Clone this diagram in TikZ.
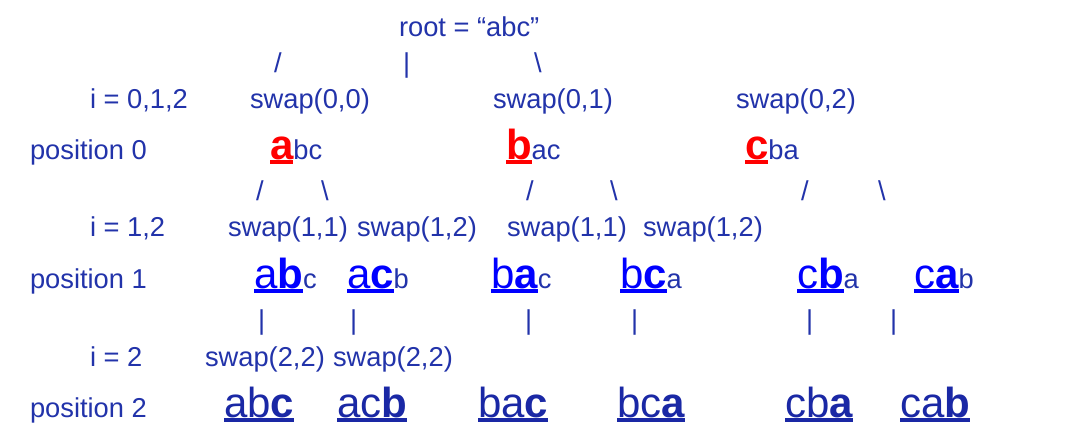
\documentclass[tikz,border=0pt]{standalone}
\usepackage{fontspec}
\setmainfont{Liberation Sans}
\definecolor{tblue}{RGB}{34,51,170}
\definecolor{pblue}{RGB}{0,0,255}
\definecolor{dblue}{RGB}{26,40,165}
\newsavebox\ulsave
\newcommand\ulx[1]{\sbox\ulsave{#1}\rlap{\rule[-5pt]{\wd\ulsave}{3.6pt}}\usebox\ulsave}
\newcommand\bigf{\fontsize{42}{46}\selectfont}
\newcommand\smf{\fontsize{27.3}{30}\selectfont}
\newcommand\pzero[2]{{\color{red}\ulx{\bigf\bfseries #1}}#2}
\newcommand\pone[3]{{\color{pblue}\ulx{\bigf #1\textbf{#2}}}#3}
\newcommand\ptwo[2]{{\color{dblue}\ulx{\bigf #1\textbf{#2}}}}
\begin{document}
\begin{tikzpicture}[x=1pt,y=-1pt,
  txt/.style={anchor=base west, inner sep=0pt, outer sep=0pt, text=tblue, font=\smf}]
\useasboundingbox (0,0) rectangle (1075,434);
\fill[white] (0,0) rectangle (1075,434);
% root
\node[txt] (root) at (399,36) {root = “abc”};
\node[txt] (l0a) at (274,72) {/};
\node[txt] (l0b) at (403,72) {|};
\node[txt] (l0c) at (534,72) {\textbackslash};
% level 0
\node[txt] (i0) at (90,108) {i = 0,1,2};
\node[txt] (s00) at (250,108) {swap(0,0)};
\node[txt] (s01) at (493,108) {swap(0,1)};
\node[txt] (s02) at (736,108) {swap(0,2)};
\node[txt] (pos0) at (30,159) {position 0};
\node[txt] (abc0) at (270,159) {\pzero{a}{bc}};
\node[txt] (bac0) at (506,159) {\pzero{b}{ac}};
\node[txt] (cba0) at (745,159) {\pzero{c}{ba}};
% branches
\node[txt] (l1a) at (256,200) {/};
\node[txt] (l1b) at (321,200) {\textbackslash};
\node[txt] (l1c) at (526,200) {/};
\node[txt] (l1d) at (610,200) {\textbackslash};
\node[txt] (l1e) at (801,200) {/};
\node[txt] (l1f) at (878,200) {\textbackslash};
% level 1
\node[txt] (i1) at (90,236) {i = 1,2};
\node[txt] (s11a) at (228,236) {swap(1,1)};
\node[txt] (s12a) at (357,236) {swap(1,2)};
\node[txt] (s11b) at (507,236) {swap(1,1)};
\node[txt] (s12b) at (643,236) {swap(1,2)};
\node[txt] (pos1) at (30,288) {position 1};
\node[txt] (abc1) at (254,288) {\pone{a}{b}{c}};
\node[txt] (acb1) at (347,288) {\pone{a}{c}{b}};
\node[txt] (bac1) at (491,288) {\pone{b}{a}{c}};
\node[txt] (bca1) at (620,288) {\pone{b}{c}{a}};
\node[txt] (cba1) at (797,288) {\pone{c}{b}{a}};
\node[txt] (cab1) at (914,288) {\pone{c}{a}{b}};
% bars
\node[txt] (l2a) at (258,329) {|};
\node[txt] (l2b) at (350,329) {|};
\node[txt] (l2c) at (525,329) {|};
\node[txt] (l2d) at (631,329) {|};
\node[txt] (l2e) at (806,329) {|};
\node[txt] (l2f) at (890,329) {|};
% level 2
\node[txt] (i2) at (90,366) {i = 2};
\node[txt] (s22a) at (205,366) {swap(2,2)};
\node[txt] (s22b) at (333,366) {swap(2,2)};
\node[txt] (pos2) at (30,417) {position 2};
\node[txt] (abc2) at (224,417) {\ptwo{ab}{c}};
\node[txt] (acb2) at (337,417) {\ptwo{ac}{b}};
\node[txt] (bac2) at (478,417) {\ptwo{ba}{c}};
\node[txt] (bca2) at (617,417) {\ptwo{bc}{a}};
\node[txt] (cba2) at (785,417) {\ptwo{cb}{a}};
\node[txt] (cab2) at (900,417) {\ptwo{ca}{b}};
\end{tikzpicture}
\end{document}
